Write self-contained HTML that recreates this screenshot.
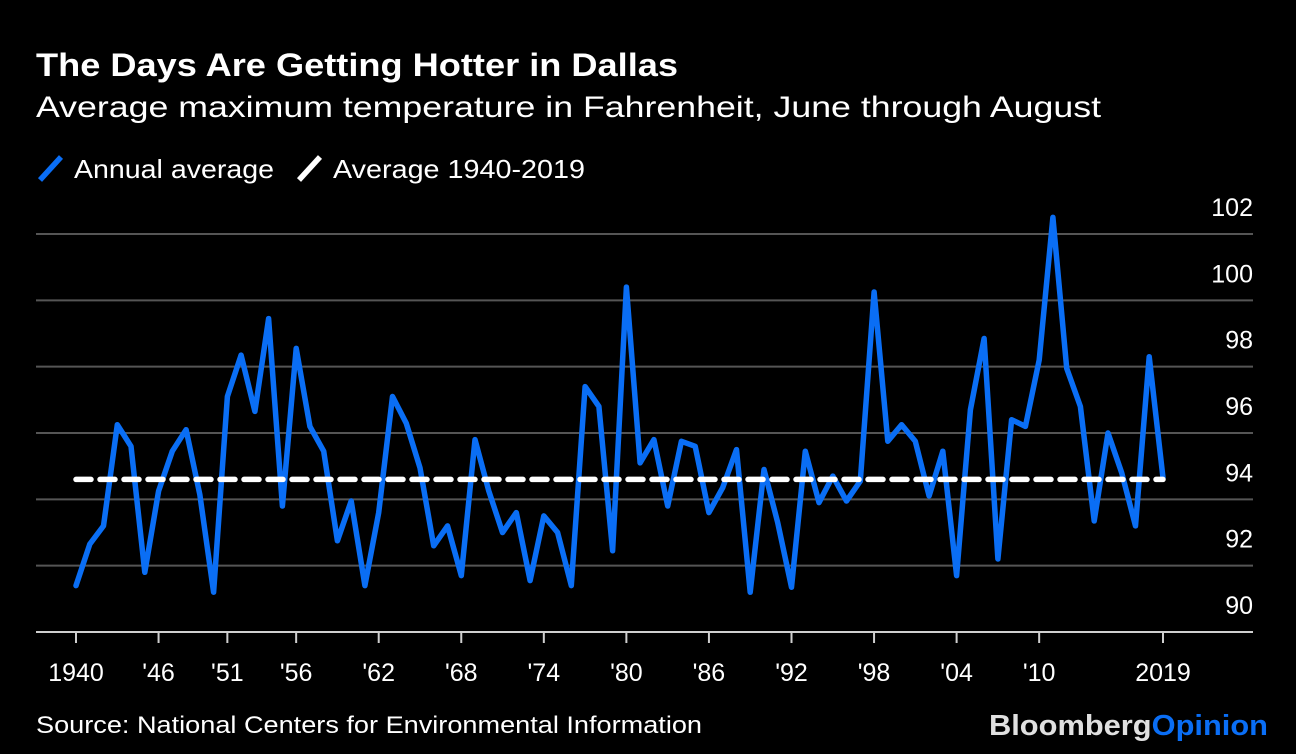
<!DOCTYPE html>
<html><head><meta charset="utf-8"><style>
html,body{margin:0;padding:0;background:#000;}
svg{display:block;font-family:"Liberation Sans",sans-serif;}
</style></head><body>
<svg id="chart" width="1296" height="754" viewBox="0 0 1296 754" xmlns="http://www.w3.org/2000/svg">
<rect width="1296" height="754" fill="#000"/>
<text x="36" y="76" fill="#fff" font-size="32" font-weight="bold" textLength="642" lengthAdjust="spacingAndGlyphs">The Days Are Getting Hotter in Dallas</text>
<text x="36" y="117" fill="#fff" font-size="30" textLength="1065" lengthAdjust="spacingAndGlyphs">Average maximum temperature in Fahrenheit, June through August</text>
<g>
<line x1="40" y1="180" x2="61" y2="157" stroke="#0a6ef5" stroke-width="5.5"/>
<text x="74" y="178" fill="#fff" font-size="26" textLength="200" lengthAdjust="spacingAndGlyphs">Annual average</text>
<line x1="299" y1="180" x2="320" y2="157" stroke="#fff" stroke-width="5.5"/>
<text x="333" y="178" fill="#fff" font-size="26" textLength="252" lengthAdjust="spacingAndGlyphs">Average 1940-2019</text>
</g>
<g id="grid"></g>
<g id="xaxis"></g>
<g id="series"></g>
<text x="36" y="733" fill="#fff" font-size="24" textLength="666" lengthAdjust="spacingAndGlyphs">Source: National Centers for Environmental Information</text>
<text x="989" y="735" font-size="29" font-weight="bold" textLength="279" lengthAdjust="spacingAndGlyphs"><tspan fill="#e0e0e0">Bloomberg</tspan><tspan fill="#0a6ef5">Opinion</tspan></text>
</svg>
<script>
var years = [];
for (var yy = 1940; yy <= 2019; yy++) years.push(yy);
var annualValues = [91.4,92.65,93.2,96.25,95.6,91.8,94.25,95.45,96.1,94.15,91.2,97.1,98.35,96.65,99.45,93.8,98.55,96.2,95.45,92.75,93.95,91.4,93.6,97.1,96.3,94.95,92.6,93.2,91.7,95.8,94.25,93.0,93.6,91.55,93.5,93.0,91.4,97.4,96.8,92.45,100.4,95.1,95.8,93.8,95.75,95.6,93.6,94.35,95.5,91.2,94.9,93.3,91.35,95.45,93.9,94.7,93.95,94.55,100.25,95.75,96.25,95.75,94.1,95.45,91.7,96.7,98.85,92.2,96.4,96.2,98.2,102.5,97.95,96.8,93.35,96.0,94.8,93.2,98.3,94.65];
var longTermAverage = 94.6;
var yTicks = [90,92,94,96,98,100,102];
var xTickYears = [1940,1946,1951,1956,1962,1968,1974,1980,1986,1992,1998,2004,2010,2019];
var xTickLabels = ["1940","'46","'51","'56","'62","'68","'74","'80","'86","'92","'98","'04","'10","2019"];

var NS = "http://www.w3.org/2000/svg";
function xScale(yr){ return 76 + (yr - 1940) * (1163 - 76) / 79; }
function yScale(v){ return 632 - (v - 90) * (632 - 234) / 12; }
function mk(tag, attrs, parent){ var e = document.createElementNS(NS, tag); for (var k in attrs) e.setAttribute(k, attrs[k]); parent.appendChild(e); return e; }

var grid = document.getElementById('grid');
yTicks.forEach(function(t){
  var y = yScale(t);
  var ln = mk('line', {x1:36, x2:1253, y1:y, y2:y, stroke: t===90 ? '#cfcfcf' : '#555', 'stroke-width':2}, grid);
  
  
  var tx = mk('text', {x:1253, y:y-18, fill:'#fff', 'font-size':25, 'text-anchor':'end'}, grid);
  tx.textContent = String(t);
  
  
});

var xaxis = document.getElementById('xaxis');
xTickYears.forEach(function(yr, i){
  var x = xScale(yr);
  var tk = mk('line', {x1:x, x2:x, y1:632, y2:643, stroke:'#cfcfcf', 'stroke-width':2}, xaxis);
  
  
  var tx = mk('text', {x:x, y:681, fill:'#fff', 'font-size':25, 'text-anchor':'middle'}, xaxis);
  tx.textContent = xTickLabels[i];
  
  
});

var series = document.getElementById('series');
var pts = years.map(function(yr, i){ return xScale(yr).toFixed(1) + ',' + yScale(annualValues[i]).toFixed(1); }).join(' ');
var pl = mk('polyline', {points: pts, fill:'none', stroke:'#0a6ef5', 'stroke-width':5.5, 'stroke-linejoin':'round', 'stroke-linecap':'round'}, series);


var ay = yScale(longTermAverage);
var av = mk('line', {x1:xScale(1940), x2:xScale(2019), y1:ay, y2:ay, stroke:'#fff', 'stroke-width':5.5, 'stroke-dasharray':'15 9', 'stroke-linecap':'round'}, series);


</script>
</body></html>
